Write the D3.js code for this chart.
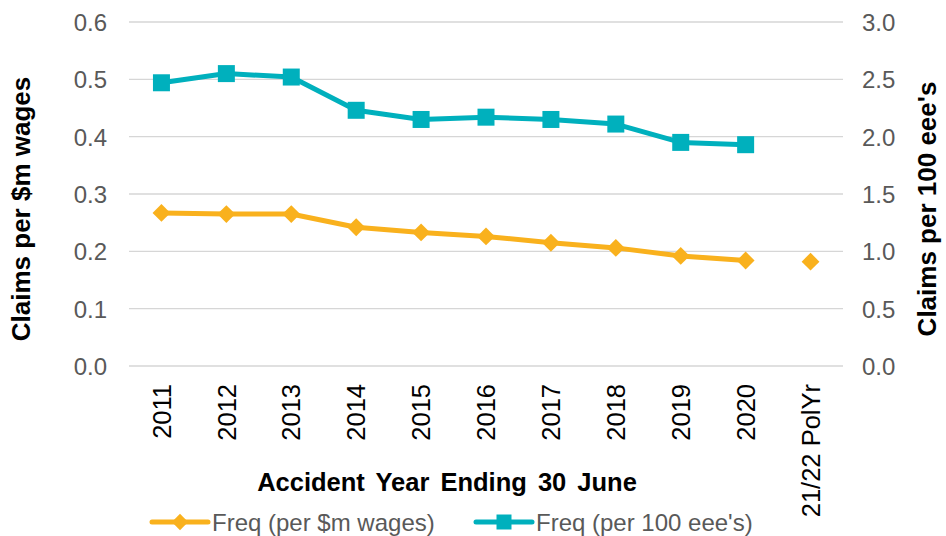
<!DOCTYPE html>
<html>
<head>
<meta charset="utf-8">
<script src="https://cdn.jsdelivr.net/npm/d3@7/dist/d3.min.js"></script>
<style>
  html, body { margin: 0; padding: 0; background: #fff; }
  svg { display: block; font-family: "Liberation Sans", Arial, sans-serif; }
</style>
</head>
<body>
<svg id="chart" width="946" height="536"></svg>
<script>
// ---- Data ----
const categories = ["2011","2012","2013","2014","2015","2016","2017","2018","2019","2020","21/22 PolYr"];
// Claims per $m wages (left axis)
const wagesFreq = [0.267, 0.265, 0.265, 0.242, 0.233, 0.226, 0.215, 0.206, 0.192, 0.184, 0.182];
// Claims per 100 employees (right axis)
const employeeFreq = [2.47, 2.55, 2.52, 2.23, 2.15, 2.17, 2.15, 2.11, 1.95, 1.93, null];
// Category that stands apart (projection, not joined by the line)
const projectionCategory = "21/22 PolYr";
const leftTicks = [0, 0.1, 0.2, 0.3, 0.4, 0.5, 0.6];
const rightTicks = [0, 0.5, 1.0, 1.5, 2.0, 2.5, 3.0];
const seriesNames = ["Freq (per $m wages)", "Freq (per 100 eee's)"];
const leftTitle = "Claims per $m wages";
const rightTitle = "Claims per 100 eee's";
const xTitle = "Accident Year Ending 30 June";

// ---- Layout ----
const svg = d3.select("#chart");
const plot = { left: 129, right: 843, top: 22, bottom: 366 };
const orange = "#F9B11D";
const teal = "#00B0BD";
const grey = "#595959";

const x = d3.scaleBand().domain(categories).range([plot.left, plot.right]).padding(0);
const yL = d3.scaleLinear().domain([0, 0.6]).range([plot.bottom, plot.top]);
const yR = d3.scaleLinear().domain([0, 3.0]).range([plot.bottom, plot.top]);
const cx = c => x(c) + x.bandwidth() / 2;

// gridlines
svg.append("g").selectAll("line").data(leftTicks).join("line")
  .attr("x1", plot.left).attr("x2", plot.right)
  .attr("y1", d => yL(d)).attr("y2", d => yL(d))
  .attr("stroke", "#D6D6D6").attr("stroke-width", 1.3);

// left axis
const gL = svg.append("g").attr("transform", `translate(${plot.left},0)`)
  .call(d3.axisLeft(yL).tickValues(leftTicks).tickFormat(d3.format(".1f")).tickSize(0).tickPadding(22));
gL.select(".domain").remove();
gL.selectAll("text").attr("font-size", 24).attr("fill", grey)
  .attr("font-family", "Liberation Sans, Arial, sans-serif").attr("dy", "0.36em");

// right axis
const gR = svg.append("g").attr("transform", `translate(${plot.right},0)`)
  .call(d3.axisRight(yR).tickValues(rightTicks).tickFormat(d3.format(".1f")).tickSize(0).tickPadding(19));
gR.select(".domain").remove();
gR.selectAll("text").attr("font-size", 24).attr("fill", grey)
  .attr("font-family", "Liberation Sans, Arial, sans-serif").attr("dy", "0.36em");

// x axis labels (rotated)
const gX = svg.append("g").attr("transform", `translate(0,${plot.bottom})`)
  .call(d3.axisBottom(x).tickSize(0).tickPadding(0));
gX.select(".domain").remove();
gX.selectAll("text")
  .attr("font-size", 25.5).attr("fill", "#000")
  .attr("font-family", "Liberation Sans, Arial, sans-serif")
  .attr("text-anchor", "end")
  .attr("transform", "translate(0,18) rotate(-90)")
  .attr("x", 0).attr("y", 0).attr("dy", "0.36em");

// axis titles
svg.append("text").attr("transform", `translate(30,209) rotate(-90)`)
  .attr("text-anchor", "middle").attr("font-size", 26).attr("font-weight", "bold")
  .attr("fill", "#000").text(leftTitle);
svg.append("text").attr("transform", `translate(936,209) rotate(-90)`)
  .attr("text-anchor", "middle").attr("font-size", 26).attr("font-weight", "bold")
  .attr("fill", "#000").text(rightTitle);
svg.append("text").attr("x", 447).attr("y", 491)
  .attr("text-anchor", "middle").attr("font-size", 25.5).attr("font-weight", "bold")
  .attr("fill", "#000").attr("word-spacing", 4).text(xTitle);

// series
const wagesPts = categories.map((c, i) => ({ c, v: wagesFreq[i] }));
const empPts = categories.map((c, i) => ({ c, v: employeeFreq[i] }));

const lineL = d3.line().defined(d => d.v != null && d.c !== projectionCategory)
  .x(d => cx(d.c)).y(d => yL(d.v));
const lineR = d3.line().defined(d => d.v != null && d.c !== projectionCategory)
  .x(d => cx(d.c)).y(d => yR(d.v));

svg.append("path").datum(empPts).attr("d", lineR)
  .attr("fill", "none").attr("stroke", teal).attr("stroke-width", 5).attr("stroke-linejoin", "round");
svg.append("path").datum(wagesPts).attr("d", lineL)
  .attr("fill", "none").attr("stroke", orange).attr("stroke-width", 5).attr("stroke-linejoin", "round");

const sq = d3.symbol(d3.symbolSquare, 17 * 17);
const dia = d3.symbol(d3.symbolSquare, 12.6 * 12.6);

svg.append("g").selectAll("path").data(empPts.filter(d => d.v != null)).join("path")
  .attr("d", sq).attr("fill", teal)
  .attr("transform", d => `translate(${cx(d.c)},${yR(d.v)})`);
svg.append("g").selectAll("path").data(wagesPts.filter(d => d.v != null)).join("path")
  .attr("d", dia).attr("fill", orange)
  .attr("transform", d => `translate(${cx(d.c)},${yL(d.v)}) rotate(45)`);

// legend
const legY = 522;
const leg = [
  { name: seriesNames[0], color: orange, x0: 152, sym: "diamond" },
  { name: seriesNames[1], color: teal, x0: 476, sym: "square" }
];
const lg = svg.append("g");
leg.forEach(l => {
  lg.append("line").attr("x1", l.x0).attr("x2", l.x0 + 56).attr("y1", legY).attr("y2", legY)
    .attr("stroke", l.color).attr("stroke-width", 5).attr("stroke-linecap", "round");
  if (l.sym === "diamond") {
    lg.append("path").attr("d", d3.symbol(d3.symbolSquare, 11.5 * 11.5))
      .attr("fill", l.color).attr("transform", `translate(${l.x0 + 28},${legY}) rotate(45)`);
  } else {
    lg.append("path").attr("d", d3.symbol(d3.symbolSquare, 15 * 15))
      .attr("fill", l.color).attr("transform", `translate(${l.x0 + 28},${legY})`);
  }
  lg.append("text").attr("x", l.x0 + 60).attr("y", legY).attr("dy", "0.36em")
    .attr("font-size", 24).attr("fill", grey).text(l.name);
});
</script>
</body>
</html>
